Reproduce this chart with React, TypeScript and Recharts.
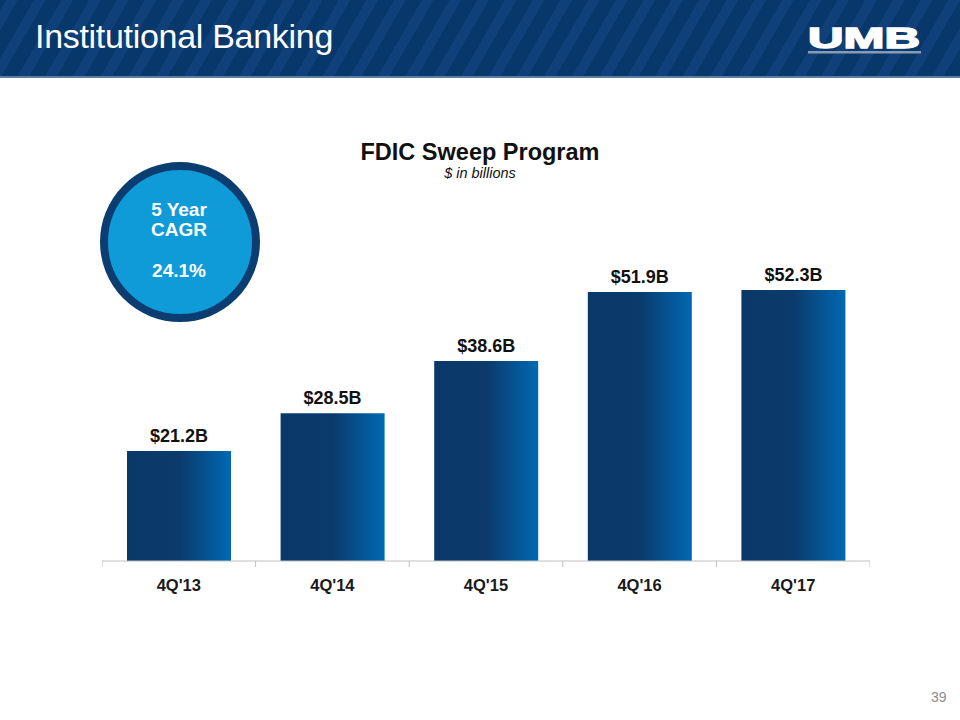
import React from 'react';
import { BarChart, Bar, XAxis, YAxis, LabelList } from 'recharts';

const quarters = ["4Q'13", "4Q'14", "4Q'15", "4Q'16", "4Q'17"];
const balances = [21.2, 28.5, 38.6, 51.9, 52.3];

const chartData = quarters.map((q, i) => ({ quarter: q, value: balances[i] }));

const FONT = '"Liberation Sans", Arial, sans-serif';
const PLOT_W = 768;
const BAND = PLOT_W / quarters.length;

// x-axis labels with tick marks on the category edges, like the slide
const QuarterTick = (props: any) => {
  const { x, y, payload, index } = props;
  return (
    <g>
      <line x1={x - BAND / 2} y1={y - 8} x2={x - BAND / 2} y2={y - 2} stroke="#bfbfbf" />
      {index === quarters.length - 1 && (
        <line x1={x + BAND / 2} y1={y - 8} x2={x + BAND / 2} y2={y - 2} stroke="#bfbfbf" />
      )}
      <text x={x} y={y + 22} textAnchor="middle" fontFamily={FONT} fontSize={16.5} fontWeight="bold" fill="#1a1a1a">
        {payload.value}
      </text>
    </g>
  );
};

export default function App() {
  return (
    <div style={{ position: 'fixed', left: 0, top: 0, width: 960, height: 720, background: '#fff', fontFamily: FONT, overflow: 'hidden' }}>
      {/* header band */}
      <div
        style={{
          position: 'absolute', left: 0, top: 0, width: 960, height: 76,
          background: 'repeating-linear-gradient(-60deg, #08376b 0px, #08376b 14px, #0f4079 14px, #0f4079 24px)',
          borderBottom: '2px solid #5d7ea3',
        }}
      />
      <div style={{ position: 'absolute', left: 35, top: 17, color: '#fff', fontSize: 34, letterSpacing: -0.3 }}>
        Institutional Banking
      </div>
      <svg style={{ position: 'absolute', left: 800, top: 18 }} width={130} height={40}>
        <text x={8} y={30} fontFamily={FONT} fontWeight="900" fontSize={30} fill="#fff" textLength={112} lengthAdjust="spacingAndGlyphs" stroke="#fff" strokeWidth={1.5}>
          UMB
        </text>
        <rect x={8} y={33} width={113} height={2.5} fill="#8a9bb0" />
      </svg>

      {/* chart titles */}
      <div style={{ position: 'absolute', left: 0, width: 960, top: 139, textAlign: 'center', fontSize: 23.5, fontWeight: 'bold', color: '#111' }}>
        FDIC Sweep Program
      </div>
      <div style={{ position: 'absolute', left: 0, width: 960, top: 165, textAlign: 'center', fontSize: 14.5, fontStyle: 'italic', color: '#111' }}>
        $ in billions
      </div>

      {/* CAGR badge */}
      <div
        style={{
          position: 'absolute', left: 100, top: 162, width: 160, height: 160, boxSizing: 'border-box',
          borderRadius: '50%', background: '#0f9ad8', border: '8px solid #0b3d70',
        }}
      />
      <div style={{ position: 'absolute', left: 120, width: 118, top: 200, textAlign: 'center', color: '#fff', fontWeight: 'bold', fontSize: 19, lineHeight: '20px' }}>
        <div>5 Year</div>
        <div>CAGR</div>
        <div style={{ marginTop: 21 }}>24.1%</div>
      </div>

      {/* bars */}
      <div style={{ position: 'absolute', left: 102, top: 200 }}>
        <BarChart width={PLOT_W} height={400} data={chartData} margin={{ top: 50, right: 0, bottom: 9, left: 0 }}>
          <defs>
            <linearGradient id="barFill" x1="0" y1="0" x2="1" y2="0">
              <stop offset="0%" stopColor="#0a3868" />
              <stop offset="50%" stopColor="#0b3a6c" />
              <stop offset="100%" stopColor="#0069b2" />
            </linearGradient>
          </defs>
          <XAxis dataKey="quarter" axisLine={{ stroke: '#bfbfbf' }} tickLine={false} tick={<QuarterTick />} height={30} interval={0} />
          <YAxis hide domain={[0, 60]} />
          <Bar dataKey="value" fill="url(#barFill)" barSize={104} isAnimationActive={false}>
            <LabelList
              dataKey="value"
              position="top"
              offset={9}
              formatter={(v: any) => `$${Number(v).toFixed(1)}B`}
              style={{ fontFamily: FONT, fontSize: 18, fontWeight: 'bold', fill: '#111' }}
            />
          </Bar>
        </BarChart>
      </div>

      <div style={{ position: 'absolute', left: 931, top: 689, fontSize: 14, color: '#8c8c8c' }}>39</div>
    </div>
  );
}
